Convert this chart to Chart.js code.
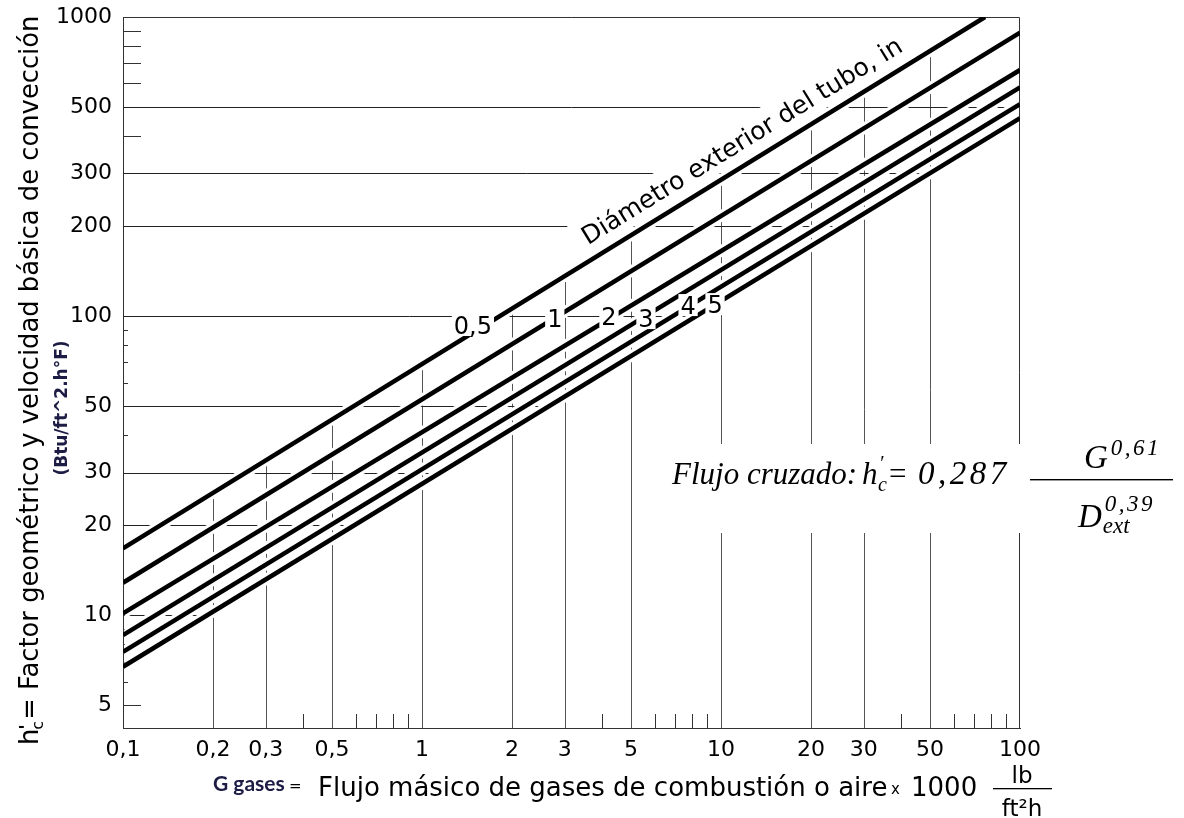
<!DOCTYPE html>
<html>
<head>
<meta charset="utf-8">
<script src="https://cdn.jsdelivr.net/npm/chart.js@4.4.1/dist/chart.umd.min.js"></script>
<style>
  html, body { margin: 0; padding: 0; background: #fff; }
  #wrap { width: 1184px; height: 818px; position: relative; }
</style>
</head>
<body>
<div id="wrap"><canvas id="chart"></canvas></div>
<script>
// Outside tube diameters (in) and h'c at the two ends of each line
const diameters = ['0,5', '1', '2', '3', '4', '5'];
const gStart = [0.1, 0.1, 0.1, 0.1, 0.1, 0.1];
const hStart = [16.75, 12.85, 10.15, 8.59, 7.55, 6.73];
const gEnd = [76.4, 100, 100, 100, 100, 100];
const hEnd = [1000, 886, 665, 582, 511, 459];

// Position of each diameter label along its line
const labelG = [1.48, 2.78, 4.22, 5.61, 7.76, 9.55];
const labelH = [93.4, 98.5, 99.9, 98.5, 108.9, 109.7];

// Caption running along the 0,5 in line, starting at this G
const captionText = 'Diámetro exterior del tubo, in';
const captionG = 3.8;

// Axis ticks
const xTicks = [0.1, 0.2, 0.3, 0.5, 1, 2, 3, 5, 10, 20, 30, 50, 100];
const yTicks = [5, 10, 20, 30, 50, 100, 200, 300, 500, 1000];
const xMinor = [0.4, 0.6, 0.7, 0.8, 0.9, 4, 6, 7, 8, 9, 40, 60, 70, 80, 90];
const yMinorLong = [400, 600, 700, 800, 900];
const yMinorShort = [6, 7, 8, 9, 40, 60, 70, 80, 90];

const SANS = '"DejaVu Sans", sans-serif';
const NARROW = '"Liberation Sans Narrow", Lato, sans-serif';
const SERIF = '"Liberation Serif", "DejaVu Serif", serif';
const NAVY = '#1c1c44';

const fmt = v => String(v).replace('.', ',');

function ends(chart, di) {
  const pts = chart.getDatasetMeta(di).data;
  return [pts[0], pts[pts.length - 1]];
}
function yOnLine(chart, di, px) {
  const [a, b] = ends(chart, di);
  return a.y + (px - a.x) * (b.y - a.y) / (b.x - a.x);
}
function xOnLine(chart, di, py) {
  const [a, b] = ends(chart, di);
  return a.x + (py - a.y) * (b.x - a.x) / (b.y - a.y);
}

const nomogram = {
  id: 'nomogram',
  beforeDatasetsDraw(chart) {
    const { ctx, chartArea: A, scales: { x, y } } = chart;
    const low = chart.data.datasets.length - 1;
    ctx.save();
    ctx.lineWidth = 1;

    // vertical grid: from the G axis up to the 0,5 in line
    ctx.strokeStyle = '#555';
    xTicks.slice(1, -1).forEach(v => {
      const px = Math.round(x.getPixelForValue(v)) + 0.5;
      const yt = Math.max(A.top, yOnLine(chart, 0, px));
      ctx.beginPath(); ctx.moveTo(px, A.bottom); ctx.lineTo(px, yt); ctx.stroke();
    });

    // horizontal grid: from the h'c axis across to the 5 in line
    ctx.strokeStyle = '#222';
    yTicks.filter(v => v > 5 && v < 1000).forEach(v => {
      const py = Math.round(y.getPixelForValue(v)) + 0.5;
      const xr = Math.min(A.right, xOnLine(chart, low, py));
      ctx.beginPath(); ctx.moveTo(A.left, py); ctx.lineTo(xr, py); ctx.stroke();
    });

    // minor ticks
    ctx.strokeStyle = '#333';
    const hTick = (v, len) => {
      const py = Math.round(y.getPixelForValue(v)) + 0.5;
      ctx.beginPath(); ctx.moveTo(A.left, py); ctx.lineTo(A.left + len, py); ctx.stroke();
    };
    yMinorLong.forEach(v => hTick(v, 18));
    hTick(5, 18);
    yMinorShort.forEach(v => hTick(v, 5));
    xMinor.forEach(v => {
      const px = Math.round(x.getPixelForValue(v)) + 0.5;
      ctx.beginPath(); ctx.moveTo(px, A.bottom); ctx.lineTo(px, A.bottom - 14); ctx.stroke();
    });

    // white margin around each line so the grid stops short of it
    ctx.save();
    ctx.beginPath();
    ctx.rect(A.left + 1.5, A.top + 1.5, A.right - A.left - 3, A.bottom - A.top - 3);
    ctx.clip();
    ctx.strokeStyle = '#fff';
    ctx.lineWidth = 11;
    chart.data.datasets.forEach((d, i) => {
      const [a, b] = ends(chart, i);
      ctx.beginPath(); ctx.moveTo(a.x, a.y); ctx.lineTo(b.x, b.y); ctx.stroke();
    });
    ctx.restore();

    // top and right frame
    ctx.strokeStyle = '#333';
    ctx.lineWidth = 1;
    const t = Math.round(A.top) + 0.5, r = Math.round(A.right) - 0.5;
    ctx.beginPath();
    ctx.moveTo(A.left, t); ctx.lineTo(r, t); ctx.lineTo(r, A.bottom);
    ctx.stroke();
    ctx.restore();
  },

  afterDatasetsDraw(chart) {
    const { ctx, scales: { x, y } } = chart;
    ctx.save();

    // diameter labels sitting on their lines
    ctx.font = '24px ' + SANS;
    ctx.textAlign = 'center';
    ctx.textBaseline = 'alphabetic';
    diameters.forEach((d, i) => {
      const px = x.getPixelForValue(labelG[i]);
      const py = y.getPixelForValue(labelH[i]);
      const w = ctx.measureText(d).width;
      ctx.fillStyle = '#fff';
      ctx.fillRect(px - w / 2 - 2, py - 11, w + 4, 22);
      ctx.fillStyle = '#000';
      ctx.fillText(d, px, py + 8.7);
    });

    // caption along the 0,5 in line
    const [a, b] = ends(chart, 0);
    const ang = Math.atan2(b.y - a.y, b.x - a.x);
    const cx = x.getPixelForValue(captionG);
    const cy = yOnLine(chart, 0, cx);
    ctx.translate(cx, cy);
    ctx.rotate(ang);
    ctx.font = '25px ' + SANS;
    ctx.textAlign = 'left';
    const cw = ctx.measureText(captionText).width;
    ctx.fillStyle = '#fff';
    ctx.fillRect(-8, -41, cw + 16, 35);
    ctx.fillStyle = '#000';
    ctx.fillText(captionText, 0, -14);
    ctx.restore();
  },

  afterDraw(chart) {
    const { ctx } = chart;
    ctx.save();
    ctx.fillStyle = '#000';
    ctx.textBaseline = 'alphabetic';
    ctx.textAlign = 'left';

    // cross-flow correlation
    ctx.fillStyle = '#fff';
    ctx.fillRect(664, 444, 520, 89);
    ctx.fillStyle = '#000';
    const it = s => 'italic ' + s + 'px ' + SERIF;
    ctx.font = it(31);
    ctx.fillText('Flujo cruzado:', 672, 484);
    ctx.fillText('h', 862, 484);
    ctx.font = it(20);
    ctx.fillText('\u2032', 879, 470);
    ctx.fillText('c', 878, 491);
    ctx.font = '31px ' + SERIF;
    ctx.fillText('=', 889, 484);
    ctx.font = it(33);
    ctx.letterSpacing = '3.5px';
    ctx.fillText('0,287', 918, 484);
    ctx.letterSpacing = '0px';
    // fraction
    ctx.fillRect(1030, 479, 143, 1.4);
    ctx.font = it(33);
    ctx.fillText('G', 1084, 468);
    const gw = ctx.measureText('G').width;
    ctx.font = it(23);
    ctx.letterSpacing = '2.5px';
    ctx.fillText('0,61', 1084 + gw + 3, 455);
    ctx.letterSpacing = '0px';
    ctx.font = it(33);
    ctx.fillText('D', 1078, 527);
    const dw = ctx.measureText('D').width;
    ctx.font = it(23);
    ctx.letterSpacing = '2.5px';
    ctx.fillText('0,39', 1078 + dw + 3, 511);
    ctx.letterSpacing = '0px';
    ctx.fillText('ext', 1078 + dw + 1, 533);

    // G axis title
    ctx.fillStyle = NAVY;
    ctx.font = 'bold 21px ' + NARROW;
    ctx.fillText('G gases', 213, 791);
    ctx.fillStyle = '#000';
    ctx.font = '15px ' + SANS;
    ctx.fillText('=', 289, 791);
    ctx.font = '26px ' + SANS;
    ctx.fillText('Flujo másico de gases de combustión o aire', 318, 796);
    ctx.font = '15px ' + SANS;
    ctx.fillText('x', 891, 794);
    ctx.font = '26px ' + SANS;
    ctx.fillText('1000', 911, 796);
    ctx.textAlign = 'center';
    ctx.font = '23px ' + SANS;
    ctx.fillText('lb', 1022, 783);
    ctx.fillText('ft\u00b2h', 1022, 816);
    ctx.fillRect(993, 788, 59, 1.3);

    // h'c axis title
    ctx.save();
    ctx.translate(38, 745);
    ctx.rotate(-Math.PI / 2);
    ctx.textAlign = 'left';
    ctx.font = '25.8px ' + SANS;
    ctx.fillText('h', 0, 0);
    const hw = ctx.measureText('h').width;
    ctx.font = 'bold 18px ' + SANS;
    ctx.fillText("'", hw - 1, -6);
    ctx.font = '16px ' + SANS;
    ctx.fillText('c', hw - 1, 5);
    const cwid = ctx.measureText('c').width;
    ctx.font = '25.8px ' + SANS;
    ctx.fillText('= Factor geométrico y velocidad básica de convección', hw + cwid, 0);
    ctx.restore();

    // units of h'c
    ctx.save();
    ctx.translate(67, 408);
    ctx.rotate(-Math.PI / 2);
    ctx.textAlign = 'center';
    ctx.fillStyle = NAVY;
    ctx.font = 'bold 17px ' + SANS;
    ctx.fillText('(Btu/ft^2.h°F)', 0, 0);
    ctx.restore();

    ctx.restore();
  }
};

new Chart(document.getElementById('chart'), {
  type: 'scatter',
  data: {
    datasets: diameters.map((d, i) => ({
      label: d + ' in',
      data: [{ x: gStart[i], y: hStart[i] }, { x: gEnd[i], y: hEnd[i] }],
      showLine: true,
      borderColor: '#000',
      backgroundColor: '#000',
      borderWidth: 4.5,
      pointRadius: 0,
      pointHoverRadius: 0,
      borderCapStyle: 'butt'
    }))
  },
  options: {
    responsive: true,
    maintainAspectRatio: false,
    devicePixelRatio: 1,
    animation: false,
    events: [],
    layout: { padding: { left: 0, right: 164, top: 17, bottom: 0 } },
    plugins: { legend: { display: false }, tooltip: { enabled: false } },
    scales: {
      x: {
        type: 'logarithmic',
        min: 0.1,
        max: 100,
        afterFit(s) { s.height = 90; s.paddingLeft = 0; s.paddingRight = 0; },
        afterBuildTicks(s) { s.ticks = xTicks.map(v => ({ value: v })); },
        grid: { display: false, drawTicks: false },
        border: { display: true, color: '#333', width: 1 },
        ticks: {
          autoSkip: false, maxRotation: 0, minRotation: 0, padding: 9,
          color: '#000', font: { family: SANS, size: 22 },
          callback: v => fmt(v)
        }
      },
      y: {
        type: 'logarithmic',
        min: 4.2,
        max: 1000,
        afterFit(s) { s.width = 123; s.paddingTop = 0; s.paddingBottom = 0; },
        afterBuildTicks(s) { s.ticks = yTicks.map(v => ({ value: v })); },
        grid: { display: false, drawTicks: false },
        border: { display: true, color: '#333', width: 1 },
        ticks: {
          autoSkip: false, padding: 11,
          color: '#000', font: { family: SANS, size: 22 },
          callback: v => fmt(v)
        }
      }
    }
  },
  plugins: [nomogram]
});
</script>
</body>
</html>
